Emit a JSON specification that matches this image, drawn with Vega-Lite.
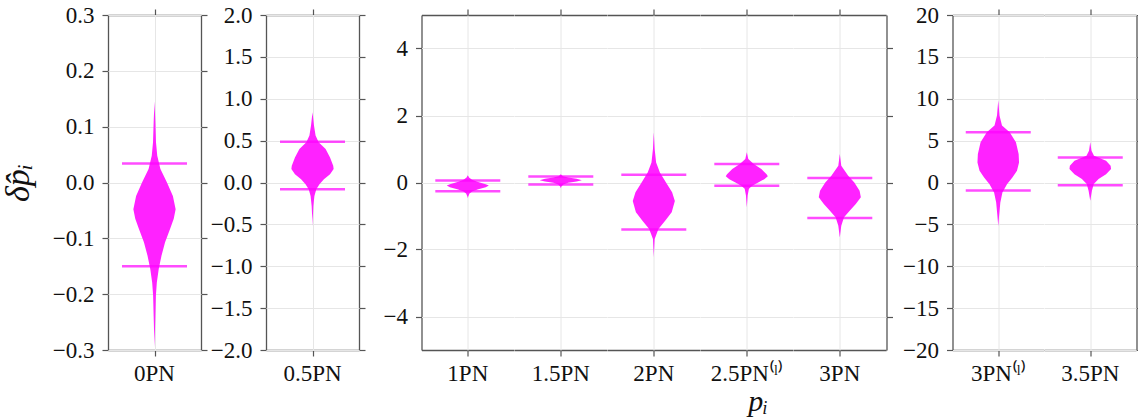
{
  "$schema": "https://vega.github.io/schema/vega-lite/v6.json",
  "background": "white",
  "padding": {"left": 1, "top": 4, "right": 2, "bottom": 0},
  "config": {
    "view": {"stroke": null},
    "font": "Liberation Serif",
    "axis": {
      "labelFont": "Liberation Serif", "labelFontSize": 23, "labelColor": "#111",
      "tickColor": "#555", "tickSize": 6, "tickWidth": 1.2,
      "domainColor": "#555", "domainWidth": 1.3,
      "gridColor": "#e6e6e6", "gridWidth": 1,
      "labelPadding": 8, "labelOverlap": false, "labelFlush": false,
      "titleFont": "Liberation Serif", "titleFontStyle": "italic", "titleFontWeight": "normal",
      "titleFontSize": 34, "titleColor": "#111", "titlePadding": 17
    },
    "header": {
      "labelFont": "Liberation Serif", "labelFontSize": 23, "labelColor": "#111",
      "labelOrient": "bottom", "labelPadding": 6
    }
  },
  "datasets": {
    "vio": [
      {"p": "0PN", "v": 0.145, "d": 0}, {"p": "0PN", "v": 0.108, "d": 0.04}, {"p": "0PN", "v": 0.072, "d": 0.07}, {"p": "0PN", "v": 0.048, "d": 0.13}, {"p": "0PN", "v": 0.024, "d": 0.28}, {"p": "0PN", "v": 0.0, "d": 0.59}, {"p": "0PN", "v": -0.024, "d": 0.87}, {"p": "0PN", "v": -0.048, "d": 1.0}, {"p": "0PN", "v": -0.065, "d": 0.91}, {"p": "0PN", "v": -0.083, "d": 0.74}, {"p": "0PN", "v": -0.107, "d": 0.5}, {"p": "0PN", "v": -0.131, "d": 0.33}, {"p": "0PN", "v": -0.155, "d": 0.2}, {"p": "0PN", "v": -0.179, "d": 0.11}, {"p": "0PN", "v": -0.203, "d": 0.065}, {"p": "0PN", "v": -0.239, "d": 0.04}, {"p": "0PN", "v": -0.274, "d": 0.015}, {"p": "0PN", "v": -0.295, "d": 0},
      {"p": "0.5PN", "v": 0.84, "d": 0}, {"p": "0.5PN", "v": 0.68, "d": 0.07}, {"p": "0.5PN", "v": 0.56, "d": 0.145}, {"p": "0.5PN", "v": 0.48, "d": 0.29}, {"p": "0.5PN", "v": 0.4, "d": 0.62}, {"p": "0.5PN", "v": 0.3, "d": 0.83}, {"p": "0.5PN", "v": 0.2, "d": 0.98}, {"p": "0.5PN", "v": 0.16, "d": 1.0}, {"p": "0.5PN", "v": 0.1, "d": 0.83}, {"p": "0.5PN", "v": 0.04, "d": 0.54}, {"p": "0.5PN", "v": -0.02, "d": 0.33}, {"p": "0.5PN", "v": -0.08, "d": 0.18}, {"p": "0.5PN", "v": -0.16, "d": 0.09}, {"p": "0.5PN", "v": -0.28, "d": 0.04}, {"p": "0.5PN", "v": -0.44, "d": 0.01}, {"p": "0.5PN", "v": -0.52, "d": 0},
      {"p": "1PN", "v": 0.22, "d": 0}, {"p": "1PN", "v": 0.15, "d": 0.06}, {"p": "1PN", "v": 0.08, "d": 0.2}, {"p": "1PN", "v": 0.02, "d": 0.45}, {"p": "1PN", "v": -0.05, "d": 0.85}, {"p": "1PN", "v": -0.09, "d": 1.0}, {"p": "1PN", "v": -0.14, "d": 0.85}, {"p": "1PN", "v": -0.2, "d": 0.5}, {"p": "1PN", "v": -0.26, "d": 0.22}, {"p": "1PN", "v": -0.33, "d": 0.08}, {"p": "1PN", "v": -0.42, "d": 0.02}, {"p": "1PN", "v": -0.46, "d": 0},
      {"p": "1.5PN", "v": 0.25, "d": 0}, {"p": "1.5PN", "v": 0.19, "d": 0.1}, {"p": "1.5PN", "v": 0.15, "d": 0.35}, {"p": "1.5PN", "v": 0.11, "d": 0.75}, {"p": "1.5PN", "v": 0.07, "d": 1.0}, {"p": "1.5PN", "v": 0.03, "d": 0.75}, {"p": "1.5PN", "v": -0.01, "d": 0.35}, {"p": "1.5PN", "v": -0.06, "d": 0.12}, {"p": "1.5PN", "v": -0.12, "d": 0.03}, {"p": "1.5PN", "v": -0.17, "d": 0},
      {"p": "2PN", "v": 1.5, "d": 0}, {"p": "2PN", "v": 1.0, "d": 0.04}, {"p": "2PN", "v": 0.6, "d": 0.11}, {"p": "2PN", "v": 0.3, "d": 0.29}, {"p": "2PN", "v": 0.0, "d": 0.58}, {"p": "2PN", "v": -0.29, "d": 0.87}, {"p": "2PN", "v": -0.55, "d": 1.0}, {"p": "2PN", "v": -0.89, "d": 0.85}, {"p": "2PN", "v": -1.14, "d": 0.54}, {"p": "2PN", "v": -1.39, "d": 0.22}, {"p": "2PN", "v": -1.69, "d": 0.04}, {"p": "2PN", "v": -2.08, "d": 0.01}, {"p": "2PN", "v": -2.23, "d": 0},
      {"p": "2.5PN⁽ˡ⁾", "v": 0.9, "d": 0}, {"p": "2.5PN⁽ˡ⁾", "v": 0.7, "d": 0.07}, {"p": "2.5PN⁽ˡ⁾", "v": 0.55, "d": 0.33}, {"p": "2.5PN⁽ˡ⁾", "v": 0.4, "d": 0.69}, {"p": "2.5PN⁽ˡ⁾", "v": 0.25, "d": 0.94}, {"p": "2.5PN⁽ˡ⁾", "v": 0.185, "d": 1.0}, {"p": "2.5PN⁽ˡ⁾", "v": 0.1, "d": 0.83}, {"p": "2.5PN⁽ˡ⁾", "v": 0.0, "d": 0.54}, {"p": "2.5PN⁽ˡ⁾", "v": -0.095, "d": 0.26}, {"p": "2.5PN⁽ˡ⁾", "v": -0.19, "d": 0.1}, {"p": "2.5PN⁽ˡ⁾", "v": -0.39, "d": 0.04}, {"p": "2.5PN⁽ˡ⁾", "v": -0.74, "d": 0},
      {"p": "3PN", "v": 0.85, "d": 0}, {"p": "3PN", "v": 0.5, "d": 0.07}, {"p": "3PN", "v": 0.2, "d": 0.4}, {"p": "3PN", "v": 0.0, "d": 0.69}, {"p": "3PN", "v": -0.245, "d": 0.94}, {"p": "3PN", "v": -0.44, "d": 1.0}, {"p": "3PN", "v": -0.64, "d": 0.76}, {"p": "3PN", "v": -0.84, "d": 0.47}, {"p": "3PN", "v": -1.04, "d": 0.2}, {"p": "3PN", "v": -1.29, "d": 0.07}, {"p": "3PN", "v": -1.64, "d": 0},
      {"p": "3PN⁽ˡ⁾", "v": 9.8, "d": 0}, {"p": "3PN⁽ˡ⁾", "v": 8.0, "d": 0.06}, {"p": "3PN⁽ˡ⁾", "v": 6.8, "d": 0.18}, {"p": "3PN⁽ˡ⁾", "v": 6.0, "d": 0.55}, {"p": "3PN⁽ˡ⁾", "v": 4.8, "d": 0.85}, {"p": "3PN⁽ˡ⁾", "v": 3.4, "d": 0.98}, {"p": "3PN⁽ˡ⁾", "v": 2.4, "d": 1.0}, {"p": "3PN⁽ˡ⁾", "v": 1.4, "d": 0.9}, {"p": "3PN⁽ˡ⁾", "v": 0.6, "d": 0.68}, {"p": "3PN⁽ˡ⁾", "v": -0.2, "d": 0.42}, {"p": "3PN⁽ˡ⁾", "v": -1.2, "d": 0.2}, {"p": "3PN⁽ˡ⁾", "v": -2.4, "d": 0.1}, {"p": "3PN⁽ˡ⁾", "v": -4.0, "d": 0.04}, {"p": "3PN⁽ˡ⁾", "v": -5.2, "d": 0},
      {"p": "3.5PN", "v": 4.8, "d": 0}, {"p": "3.5PN", "v": 3.8, "d": 0.06}, {"p": "3.5PN", "v": 3.2, "d": 0.18}, {"p": "3.5PN", "v": 2.6, "d": 0.76}, {"p": "3.5PN", "v": 2.0, "d": 0.98}, {"p": "3.5PN", "v": 1.6, "d": 1.0}, {"p": "3.5PN", "v": 1.0, "d": 0.76}, {"p": "3.5PN", "v": 0.42, "d": 0.4}, {"p": "3.5PN", "v": -0.18, "d": 0.17}, {"p": "3.5PN", "v": -0.98, "d": 0.08}, {"p": "3.5PN", "v": -2.17, "d": 0},
      {"p": "0PN", "lo": -0.15, "hi": 0.034},
      {"p": "0.5PN", "lo": -0.08, "hi": 0.487},
      {"p": "1PN", "lo": -0.26, "hi": 0.06},
      {"p": "1.5PN", "lo": -0.06, "hi": 0.18},
      {"p": "2PN", "lo": -1.4, "hi": 0.23},
      {"p": "2.5PN⁽ˡ⁾", "lo": -0.1, "hi": 0.55},
      {"p": "3PN", "lo": -1.06, "hi": 0.134},
      {"p": "3PN⁽ˡ⁾", "lo": -0.95, "hi": 6.0},
      {"p": "3.5PN", "lo": -0.32, "hi": 3.0}
    ]
  },
  "data": {"name": "vio"},
  "spacing": 16.5,
  "hconcat": [
    {
      "spacing": 2,
      "hconcat": [
        {
          "transform": [{"filter": {"field": "p", "oneOf": ["0PN"]}}],
          "facet": {"column": {"field": "p", "type": "nominal", "sort": ["0PN"], "title": null}},
          "spacing": 0,
          "spec": {
            "width": 93, "height": 335,
            "layer": [
              {"transform": [{"filter": "isValid(datum.v)"}],
               "mark": {"type": "area", "orient": "horizontal", "color": "#ff22ff"},
               "encoding": {
                 "y": {"field": "v", "type": "quantitative", "scale": {"domain": [-0.3, 0.3], "nice": false, "zero": false},
                       "axis": {"orient": "left", "values": [-0.3, -0.2, -0.1, 0, 0.1, 0.2, 0.3], "format": ".1f", "title": "δp̂ᵢ"}},
                 "x": {"field": "d", "type": "quantitative", "stack": "center", "impute": null, "scale": {"domain": [-0.42, 1.42]},
                       "axis": {"orient": "bottom", "values": [0.5], "labels": false, "grid": true, "title": null}}
               }},
              {"transform": [{"filter": "isValid(datum.lo)"}],
               "mark": {"type": "tick", "orient": "horizontal", "size": 65, "thickness": 2.5, "color": "#ff00ff"},
               "encoding": {
                 "y": {"field": "lo", "type": "quantitative", "axis": {"orient": "right", "values": [-0.3, -0.2, -0.1, 0, 0.1, 0.2, 0.3], "labels": false, "grid": false, "title": null}},
                 "x": {"datum": 0.5, "type": "quantitative", "axis": {"orient": "top", "values": [0.5], "labels": false, "grid": false, "title": null}}
               }},
              {"transform": [{"filter": "isValid(datum.hi)"}],
               "mark": {"type": "tick", "orient": "horizontal", "size": 65, "thickness": 2.5, "color": "#ff00ff"},
               "encoding": {
                 "y": {"field": "hi", "type": "quantitative", "axis": null},
                 "x": {"datum": 0.5, "type": "quantitative", "axis": null}
               }}
            ],
            "resolve": {"axis": {"x": "independent", "y": "independent"}}
          }
        },
        {
          "transform": [{"filter": {"field": "p", "oneOf": ["0.5PN"]}}],
          "facet": {"column": {"field": "p", "type": "nominal", "sort": ["0.5PN"], "title": null}},
          "spacing": 0,
          "spec": {
            "width": 93, "height": 335,
            "layer": [
              {"transform": [{"filter": "isValid(datum.v)"}],
               "mark": {"type": "area", "orient": "horizontal", "color": "#ff22ff"},
               "encoding": {
                 "y": {"field": "v", "type": "quantitative", "scale": {"domain": [-2, 2], "nice": false, "zero": false},
                       "axis": {"orient": "left", "values": [-2, -1.5, -1, -0.5, 0, 0.5, 1, 1.5, 2], "format": ".1f", "title": null}},
                 "x": {"field": "d", "type": "quantitative", "stack": "center", "impute": null, "scale": {"domain": [-0.42, 1.42]},
                       "axis": {"orient": "bottom", "values": [0.5], "labels": false, "grid": true, "title": null}}
               }},
              {"transform": [{"filter": "isValid(datum.lo)"}],
               "mark": {"type": "tick", "orient": "horizontal", "size": 65, "thickness": 2.5, "color": "#ff00ff"},
               "encoding": {
                 "y": {"field": "lo", "type": "quantitative", "axis": {"orient": "right", "values": [-2, -1.5, -1, -0.5, 0, 0.5, 1, 1.5, 2], "labels": false, "grid": false, "title": null}},
                 "x": {"datum": 0.5, "type": "quantitative", "axis": {"orient": "top", "values": [0.5], "labels": false, "grid": false, "title": null}}
               }},
              {"transform": [{"filter": "isValid(datum.hi)"}],
               "mark": {"type": "tick", "orient": "horizontal", "size": 65, "thickness": 2.5, "color": "#ff00ff"},
               "encoding": {
                 "y": {"field": "hi", "type": "quantitative", "axis": null},
                 "x": {"datum": 0.5, "type": "quantitative", "axis": null}
               }}
            ],
            "resolve": {"axis": {"x": "independent", "y": "independent"}}
          }
        }
      ]
    },
    {
      "spacing": 9,
      "hconcat": [
        {
          "transform": [{"filter": {"field": "p", "oneOf": ["1PN", "1.5PN", "2PN", "2.5PN⁽ˡ⁾", "3PN"]}}],
          "facet": {"column": {"field": "p", "type": "nominal", "sort": ["1PN", "1.5PN", "2PN", "2.5PN⁽ˡ⁾", "3PN"], "title": null}},
          "spacing": 0,
          "title": {"text": "pᵢ", "orient": "bottom", "anchor": "middle", "dx": 120, "font": "Liberation Serif", "fontStyle": "italic", "fontWeight": "normal", "fontSize": 30, "color": "#111", "offset": 1},
          "spec": {
            "width": 92.6, "height": 335,
            "layer": [
              {"transform": [{"filter": "isValid(datum.v)"}],
               "mark": {"type": "area", "orient": "horizontal", "color": "#ff22ff"},
               "encoding": {
                 "y": {"field": "v", "type": "quantitative", "scale": {"domain": [-5, 5], "nice": false, "zero": false},
                       "axis": {"orient": "left", "values": [-4, -2, 0, 2, 4], "format": "d", "title": null}},
                 "x": {"field": "d", "type": "quantitative", "stack": "center", "impute": null, "scale": {"domain": [-0.42, 1.42]},
                       "axis": {"orient": "bottom", "values": [0.5], "labels": false, "grid": true, "title": null}}
               }},
              {"transform": [{"filter": "isValid(datum.lo)"}],
               "mark": {"type": "tick", "orient": "horizontal", "size": 65, "thickness": 2.5, "color": "#ff00ff"},
               "encoding": {
                 "y": {"field": "lo", "type": "quantitative", "axis": {"orient": "right", "values": [-4, -2, 0, 2, 4], "labels": false, "grid": false, "title": null}},
                 "x": {"datum": 0.5, "type": "quantitative", "axis": {"orient": "top", "values": [0.5], "labels": false, "grid": false, "title": null}}
               }},
              {"transform": [{"filter": "isValid(datum.hi)"}],
               "mark": {"type": "tick", "orient": "horizontal", "size": 65, "thickness": 2.5, "color": "#ff00ff"},
               "encoding": {
                 "y": {"field": "hi", "type": "quantitative", "axis": null},
                 "x": {"datum": 0.5, "type": "quantitative", "axis": null}
               }}
            ],
            "resolve": {"axis": {"x": "independent", "y": "independent"}}
          }
        },
        {
          "transform": [{"filter": {"field": "p", "oneOf": ["3PN⁽ˡ⁾", "3.5PN"]}}],
          "facet": {"column": {"field": "p", "type": "nominal", "sort": ["3PN⁽ˡ⁾", "3.5PN"], "title": null}},
          "spacing": 0,
          "spec": {
            "width": 91.5, "height": 335,
            "layer": [
              {"transform": [{"filter": "isValid(datum.v)"}],
               "mark": {"type": "area", "orient": "horizontal", "color": "#ff22ff"},
               "encoding": {
                 "y": {"field": "v", "type": "quantitative", "scale": {"domain": [-20, 20], "nice": false, "zero": false},
                       "axis": {"orient": "left", "values": [-20, -15, -10, -5, 0, 5, 10, 15, 20], "format": "d", "title": null}},
                 "x": {"field": "d", "type": "quantitative", "stack": "center", "impute": null, "scale": {"domain": [-0.42, 1.42]},
                       "axis": {"orient": "bottom", "values": [0.5], "labels": false, "grid": true, "title": null}}
               }},
              {"transform": [{"filter": "isValid(datum.lo)"}],
               "mark": {"type": "tick", "orient": "horizontal", "size": 65, "thickness": 2.5, "color": "#ff00ff"},
               "encoding": {
                 "y": {"field": "lo", "type": "quantitative", "axis": {"orient": "right", "values": [-20, -15, -10, -5, 0, 5, 10, 15, 20], "labels": false, "grid": false, "title": null}},
                 "x": {"datum": 0.5, "type": "quantitative", "axis": {"orient": "top", "values": [0.5], "labels": false, "grid": false, "title": null}}
               }},
              {"transform": [{"filter": "isValid(datum.hi)"}],
               "mark": {"type": "tick", "orient": "horizontal", "size": 65, "thickness": 2.5, "color": "#ff00ff"},
               "encoding": {
                 "y": {"field": "hi", "type": "quantitative", "axis": null},
                 "x": {"datum": 0.5, "type": "quantitative", "axis": null}
               }}
            ],
            "resolve": {"axis": {"x": "independent", "y": "independent"}}
          }
        }
      ]
    }
  ]
}
